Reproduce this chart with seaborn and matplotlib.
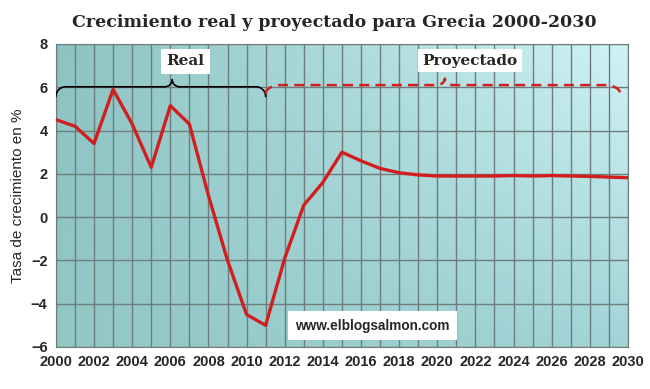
import matplotlib
matplotlib.use("Agg")
import matplotlib.pyplot as plt
import numpy as np
import pandas as pd
import seaborn as sns
from matplotlib.colors import to_rgb

years = list(range(2000, 2031))
growth = [4.5, 4.2, 3.4, 5.9, 4.3, 2.3, 5.15, 4.3, 1.0, -2.0, -4.5, -5.0,
          -1.9, 0.55, 1.6, 3.0, 2.6, 2.25, 2.05, 1.95, 1.9, 1.9, 1.9, 1.9,
          1.92, 1.9, 1.92, 1.9, 1.88, 1.85, 1.82]

x_ticks = list(range(2000, 2031, 2))
y_ticks = list(range(-6, 9, 2))

title = "Crecimiento real y proyectado para Grecia 2000-2030"
ylabel = "Tasa de crecimiento en %"
real_label = "Real"
proj_label = "Proyectado"
watermark = "www.elblogsalmon.com"

red = "#d11f1f"

df = pd.DataFrame({"year": years, "growth": growth})

sns.set_style("white")
plt.rcParams["font.family"] = ["Liberation Sans", "DejaVu Sans"]

fig = plt.figure(figsize=(6.5, 3.89), dpi=100)
ax = fig.add_axes([0.086, 0.108, 0.880, 0.779])

# gradient background
tl, tr = np.array(to_rgb("#8cc3c2")), np.array(to_rgb("#cff3f6"))
bl, br = np.array(to_rgb("#92c7c6")), np.array(to_rgb("#a2d4d7"))
gx = np.linspace(0, 1, 200)[None, :, None]
gy = np.linspace(0, 1, 100)[:, None, None]
top = tl + (tr - tl) * gx
bot = bl + (br - bl) * gx
img = top + (bot - top) * gy
ax.imshow(img, extent=[2000, 2030, -6, 8], aspect="auto", zorder=0,
          origin="upper", interpolation="bilinear")

sns.lineplot(data=df, x="year", y="growth", ax=ax, color=red, linewidth=2.4, zorder=4)

ax.set_xlim(2000, 2030)
ax.set_ylim(-6, 8)
ax.set_xticks(x_ticks)
ax.set_xticks(years, minor=True)
ax.set_yticks(y_ticks)
ax.grid(which="both", axis="x", color="#707c7c", linewidth=1.0, zorder=1)
ax.grid(which="major", axis="y", color="#707c7c", linewidth=1.0, zorder=1)
ax.set_axisbelow(True)
ax.tick_params(axis="both", which="both", length=0, labelsize=10.5, pad=6)
for lab in ax.get_xticklabels() + ax.get_yticklabels():
    lab.set_fontweight("bold")
for s in ax.spines.values():
    s.set_color("#707c7c")
ax.set_xlabel("")
ax.set_ylabel(ylabel, fontsize=11, labelpad=4)


def brace(x0, x1, xtip, level, drop=0.35, tip=0.3, r=0.5, w=0.35):
    # curly brace: rounded ends, pointed middle
    t = np.linspace(0, np.pi / 2, 20)
    left_x = x0 + r * (1 - np.cos(t))
    left_y = level - drop + drop * np.sin(t)
    right_x = x1 - r * (1 - np.cos(t[::-1]))
    right_y = level - drop + drop * np.sin(t[::-1])
    u = np.linspace(0, 1, 20)
    arc = tip * (1 - np.sqrt(1 - u ** 2))
    tx = np.concatenate([xtip - w + w * u, xtip + w - w * u[::-1]])
    ty = level + np.concatenate([arc, arc[::-1]])
    xs = np.concatenate([left_x, tx, right_x])
    ys = np.concatenate([left_y, ty, right_y])
    return xs, ys


bx, by = brace(2000, 2011, 2006.1, 6.02, drop=0.45, tip=0.33, r=0.5, w=0.4)
ax.plot(bx, by, color="black", linewidth=1.2, zorder=5)
px, py = brace(2011, 2029.6, 2020.4, 6.1, drop=0.4, tip=0.3, r=0.8, w=0.45)
ax.plot(px, py, color=red, linewidth=1.8, linestyle=(0, (4, 2.5)), zorder=5)

serif = ["DejaVu Serif"]
ax.text(2006.8, 7.2, real_label, ha="center", va="center", fontsize=11,
        fontweight="bold", family=serif, zorder=6,
        bbox=dict(boxstyle="square,pad=0.35", facecolor="white", edgecolor="none"))
ax.text(2021.7, 7.22, proj_label, ha="center", va="center", fontsize=11,
        fontweight="bold", family=serif, zorder=6,
        bbox=dict(boxstyle="square,pad=0.3", facecolor="white", edgecolor="none"))
ax.text(2016.6, -5.02, watermark, ha="center", va="center", fontsize=9.8,
        fontweight="bold", zorder=6,
        bbox=dict(boxstyle="square,pad=0.55", facecolor="white", edgecolor="none"))

fig.suptitle(title, x=0.515, y=0.965, fontsize=12.5, fontweight="bold", family=serif)

fig.savefig("out.png", dpi=100, facecolor="white")
